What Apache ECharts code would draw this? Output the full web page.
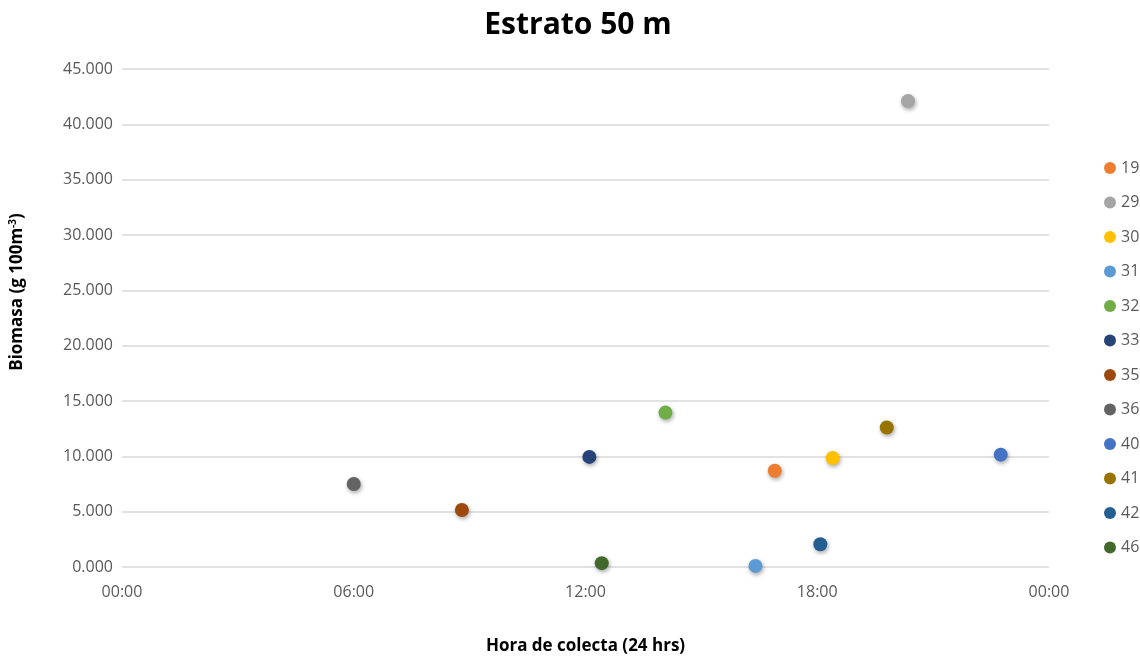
<!DOCTYPE html>
<html>
<head>
<meta charset="utf-8">
<script src="https://cdn.jsdelivr.net/npm/echarts@6/dist/echarts.min.js"></script>
<style>html,body{margin:0;padding:0;background:#fff}#c{width:1140px;height:660px}</style>
</head>
<body>
<div id="c"></div>
<script>
// Data
const seriesNames = ['19','29','30','31','32','33','35','36','40','41','42','46'];
const hours      = [16.9, 20.35, 18.4, 16.4, 14.07, 12.1, 8.8, 6.0, 22.75, 19.8, 18.08, 12.42];
const biomass    = [8.7, 42.1, 9.85, 0.1, 13.95, 9.95, 5.15, 7.5, 10.15, 12.6, 2.05, 0.35];
const colors     = ['#ED7D31','#A5A5A5','#FFC000','#5B9BD5','#70AD47','#264478','#9E480E','#636363','#4472C4','#997300','#255E91','#43682B'];
const yTicks = { min: 0, max: 45, interval: 5 };
const xTicks = { min: 0, max: 24, interval: 6 };

const chart = echarts.init(document.getElementById('c'));
const fontFam = '"Open Sans", "Liberation Sans", sans-serif';
const series = seriesNames.map((n, i) => ({
  name: n,
  type: 'scatter',
  symbol: 'circle',
  symbolSize: 14,
  data: [[hours[i], biomass[i]]],
  itemStyle: {
    color: colors[i],
    opacity: 1,
    shadowBlur: 4,
    shadowColor: 'rgba(0,0,0,0.35)',
    shadowOffsetX: 1,
    shadowOffsetY: 2
  }
}));

chart.setOption({
  animation: false,
  backgroundColor: '#fff',
  color: colors,
  title: {
    text: 'Estrato 50 m',
    left: 573,
    textAlign: 'center',
    top: 5,
    textStyle: { fontFamily: fontFam, fontSize: 30, fontWeight: 'bold', color: '#000' }
  },
  legend: {
    orient: 'vertical',
    left: 1099,
    top: 155,
    itemGap: 18.5,
    itemWidth: 12,
    itemHeight: 12,
    icon: 'circle',
    textStyle: { fontFamily: fontFam, fontSize: 16, color: '#595959' },
    data: seriesNames
  },
  grid: { left: 117, right: 91, top: 69, bottom: 88, containLabel: false },
  xAxis: {
    type: 'value',
    min: xTicks.min, max: xTicks.max, interval: xTicks.interval,
    name: 'Hora de colecta (24 hrs)',
    nameLocation: 'middle',
    nameGap: 71,
    nameTextStyle: { fontFamily: fontFam, fontSize: 17, fontWeight: 'bold', color: '#000' },
    axisLine: { show: false },
    axisTick: { show: false },
    splitLine: { show: false },
    axisLabel: {
      fontFamily: fontFam, fontSize: 16, color: '#595959', margin: 17,
      formatter: v => { const h = Math.round(v) % 24; return (h < 10 ? '0' : '') + h + ':00'; }
    }
  },
  yAxis: {
    type: 'value',
    min: yTicks.min, max: yTicks.max, interval: yTicks.interval,
    name: 'Biomasa (g 100m{sup|-3})',
    nameLocation: 'middle',
    nameGap: 96,
    nameRotate: 90,
    nameTextStyle: {
      fontFamily: fontFam, fontSize: 17, fontWeight: 'bold', color: '#000',
      padding: [0, 0, 0, 52],
      rich: { sup: { fontFamily: fontFam, fontSize: 10, fontWeight: 'bold', color: '#000', verticalAlign: 'top', padding: [0,0,8,0] } }
    },
    axisLine: { show: false },
    axisTick: { show: false },
    splitLine: { lineStyle: { color: '#D9D9D9', width: 1.5 } },
    axisLabel: {
      fontFamily: fontFam, fontSize: 16, color: '#595959', margin: 9,
      formatter: v => v.toFixed(3)
    }
  },
  series: series
});
</script>
</body>
</html>
